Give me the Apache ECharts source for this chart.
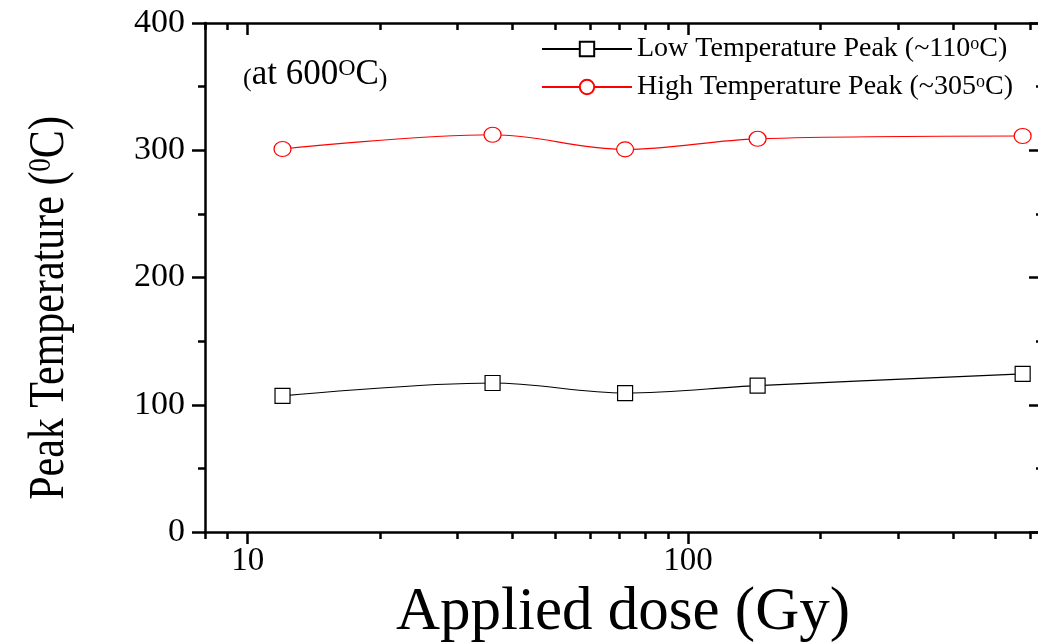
<!DOCTYPE html>
<html>
<head>
<meta charset="utf-8">
<script src="https://cdn.jsdelivr.net/npm/echarts@6/dist/echarts.min.js"></script>
<style>html,body{margin:0;padding:0;background:#fff}#c{width:1038px;height:642px}</style>
</head>
<body>
<div id="c"></div>
<script>
// ---- data ----
var doses = [12, 36, 72, 144, 576];
var lowPeak = [106.9, 117.1, 109.2, 115.0, 124.2];
var highPeak = [301.0, 312.2, 300.7, 309.0, 311.2];
var lowName = 'Low Temperature Peak (~110°C)';
var highName = 'High Temperature Peak (~305°C)';
var xMajorTicks = [10, 100];
var xMinorTicks = [8, 9, 20, 30, 40, 50, 60, 70, 80, 90, 200, 300, 400, 500, 600];
var yMin = 0, yMax = 400, yInterval = 100;
var xMin = 8, xMax = 634;
var yTitle = 'Peak Temperature ({sup|0}C)';
var xTitle = 'Applied dose (Gy)';
var note = '{p|(}at 600{sup|O}C{p|)}';

var FONT = '"Liberation Serif", "DejaVu Serif", serif';
var chart = echarts.init(document.getElementById('c'));

function pairs(xs, ys) { return xs.map(function (x, i) { return [x, ys[i]]; }); }

function xAxisDef(pos, major, inside, showLine) {
  return {
    type: 'log', logBase: 10, min: xMin, max: xMax, position: pos,
    axisLine: { show: showLine, onZero: false, lineStyle: { color: '#000', width: 2.5 } },
    axisTick: { show: true, inside: inside, length: major ? 12 : 7,
      customValues: major ? xMajorTicks : xMinorTicks,
      lineStyle: { color: '#000', width: 2.5 } },
    axisLabel: { show: pos === 'bottom' && major, customValues: xMajorTicks,
      fontFamily: FONT, fontSize: 33, color: '#000', margin: 13,
      formatter: function (v) { return String(Math.round(v)); } },
    splitLine: { show: false },
    minorTick: { show: false }
  };
}

chart.setOption({
  animation: false,
  backgroundColor: '#fff',
  grid: { left: 205, right: -3, top: 23, bottom: 110, containLabel: false, outerBoundsMode: 'none' },
  xAxis: [
    Object.assign(xAxisDef('bottom', true, false, true), {
      name: xTitle, nameLocation: 'middle', nameGap: 47,
      nameTextStyle: { fontFamily: FONT, fontSize: 61, color: '#000' }
    }),
    xAxisDef('bottom', false, false, false),
    xAxisDef('top', true, true, true),
    xAxisDef('top', false, true, false)
  ],
  yAxis: [
    {
      type: 'value', min: yMin, max: yMax, interval: yInterval, position: 'left',
      axisLine: { show: true, onZero: false, lineStyle: { color: '#000', width: 2.5 } },
      axisTick: { show: true, length: 13, lineStyle: { color: '#000', width: 2.5 } },
      minorTick: { show: true, splitNumber: 2, length: 7, lineStyle: { color: '#000', width: 2.5 } },
      axisLabel: { fontFamily: FONT, fontSize: 34, color: '#000', margin: 20 },
      splitLine: { show: false }
    },
    {
      type: 'value', min: yMin, max: yMax, interval: yInterval, position: 'right',
      axisLine: { show: true, onZero: false, lineStyle: { color: '#000', width: 2.5 } },
      axisTick: { show: true, inside: true, length: 12, lineStyle: { color: '#000', width: 2.5 } },
      minorTick: { show: true, splitNumber: 2, length: 5, lineStyle: { color: '#000', width: 2.5 } },
      axisLabel: { show: false },
      splitLine: { show: false }
    }
  ],
  legend: {
    orient: 'vertical', left: 541, top: 35, padding: 0, itemWidth: 90, itemHeight: 18, itemGap: 10,
    data: [lowName, highName],
    formatter: function (n) { return n.replace('°', '{sup|o}'); },
    textStyle: { fontFamily: FONT, fontSize: 28, color: '#000', lineHeight: 28,
      rich: { sup: { fontFamily: FONT, fontSize: 18, color: '#000', verticalAlign: 'top', lineHeight: 18 } } }
  },
  graphic: [
    {
      type: 'text', left: 243, top: 57, silent: true,
      style: {
        text: note,
        font: '35px ' + FONT, fill: '#000',
        rich: {
          p: { fontFamily: FONT, fontSize: 26, fill: '#000', verticalAlign: 'bottom', lineHeight: 28 },
          sup: { fontFamily: FONT, fontSize: 24, fill: '#000', verticalAlign: 'top', lineHeight: 22 }
        }
      }
    },
    {
      type: 'text', x: 50, y: 308, rotation: Math.PI / 2, scaleY: 1.2, silent: true,
      style: {
        text: yTitle, align: 'center', verticalAlign: 'middle',
        font: '42px ' + FONT, fill: '#000',
        rich: { sup: { fontFamily: FONT, fontSize: 27, fill: '#000', verticalAlign: 'top', lineHeight: 22 } }
      }
    }
  ],
  series: [
    {
      name: lowName, type: 'line', xAxisIndex: 0, yAxisIndex: 0,
      data: pairs(doses, lowPeak), smooth: 0.35,
      symbol: 'rect', symbolSize: [15, 15], showSymbol: true,
      lineStyle: { color: '#000', width: 1.2 },
      itemStyle: { color: '#fff', borderColor: '#000', borderWidth: 1.2 }
    },
    {
      name: highName, type: 'line', xAxisIndex: 0, yAxisIndex: 0,
      data: pairs(doses, highPeak), smooth: 0.35,
      symbol: 'circle', symbolSize: [17, 15], showSymbol: true,
      lineStyle: { color: '#ff0000', width: 1.2 },
      itemStyle: { color: '#fff', borderColor: '#ff0000', borderWidth: 1.2 }
    }
  ]
});
</script>
</body>
</html>
